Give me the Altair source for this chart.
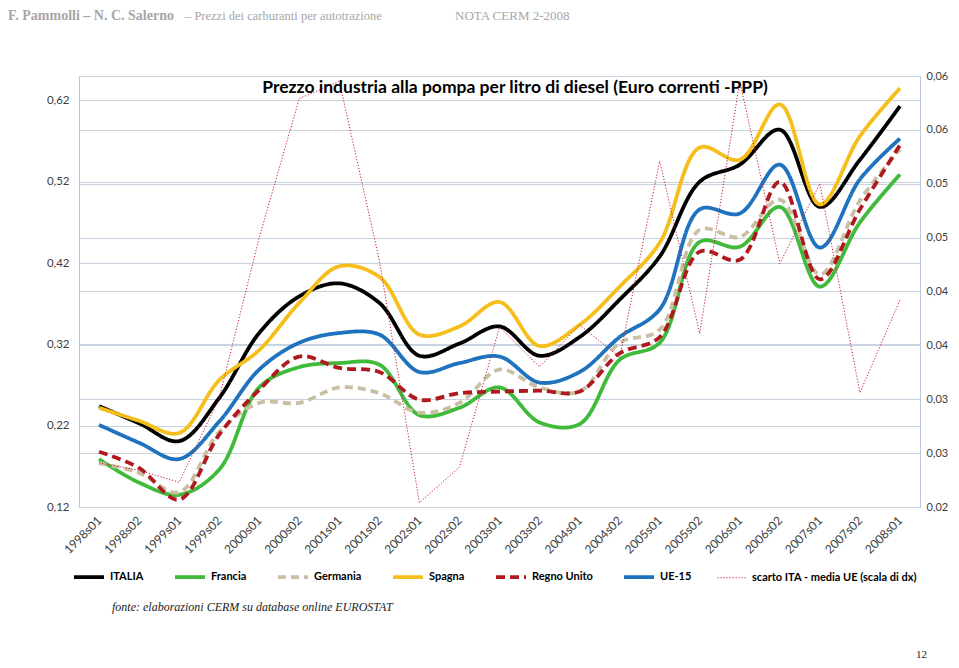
import altair as alt
import pandas as pd

cats = ["1998s01", "1998s02", "1999s01", "1999s02", "2000s01", "2000s02", "2001s01",
        "2001s02", "2002s01", "2002s02", "2003s01", "2003s02", "2004s01", "2004s02",
        "2005s01", "2005s02", "2006s01", "2006s02", "2007s01", "2007s02", "2008s01"]

italia = [0.244, 0.223, 0.201, 0.254, 0.334, 0.379, 0.395, 0.371, 0.306, 0.321, 0.342,
          0.306, 0.329, 0.375, 0.428, 0.520, 0.541, 0.584, 0.489, 0.547, 0.613]
francia = [0.179, 0.150, 0.135, 0.166, 0.267, 0.292, 0.297, 0.295, 0.233, 0.242, 0.267,
           0.224, 0.222, 0.301, 0.322, 0.446, 0.440, 0.489, 0.391, 0.470, 0.529]
germania = [0.174, 0.162, 0.138, 0.212, 0.248, 0.248, 0.267, 0.260, 0.236, 0.248, 0.289,
            0.267, 0.262, 0.322, 0.338, 0.461, 0.452, 0.498, 0.406, 0.497, 0.560]
spagna = [0.242, 0.226, 0.211, 0.276, 0.313, 0.371, 0.416, 0.403, 0.332, 0.342, 0.372,
          0.318, 0.344, 0.391, 0.445, 0.562, 0.547, 0.615, 0.492, 0.576, 0.635]
regno_unito = [0.188, 0.168, 0.129, 0.209, 0.264, 0.305, 0.291, 0.286, 0.252, 0.260, 0.262,
               0.263, 0.262, 0.309, 0.329, 0.434, 0.424, 0.520, 0.400, 0.486, 0.565]
ue15 = [0.221, 0.199, 0.179, 0.225, 0.289, 0.322, 0.334, 0.332, 0.286, 0.297, 0.305,
        0.273, 0.286, 0.329, 0.363, 0.486, 0.481, 0.541, 0.439, 0.523, 0.573]
scarto = [0.0241, 0.0234, 0.0223, 0.0301, 0.0450, 0.0579, 0.0595, 0.0429, 0.0204, 0.0237,
          0.0367, 0.0330, 0.0369, 0.0339, 0.0521, 0.0361, 0.0595, 0.0426, 0.0500, 0.0306, 0.0392]

names = ["ITALIA", "Francia", "Germania", "Spagna", "Regno Unito", "UE-15",
         "scarto ITA - media UE (scala di dx)"]
colors = ["#000000", "#40BA3A", "#C9BFA3", "#F6BE1A", "#B01A1F", "#1F72BD", "#C41E3A"]
dashes = [[1, 0], [1, 0], [8, 5], [1, 0], [9, 5], [1, 0], [1.2, 1.8]]
widths = [3.8, 3.8, 3.8, 3.8, 3.8, 3.8, 1.0]

left_ticks = [0.12, 0.22, 0.32, 0.42, 0.52, 0.62]
right_ticks = [0.02, 0.025, 0.03, 0.035, 0.04, 0.045, 0.05, 0.055, 0.06]

main_rows = []
for n, vals in zip(names[:6], [italia, francia, germania, spagna, regno_unito, ue15]):
    for c, v in zip(cats, vals):
        main_rows.append({"periodo": c, "serie": n, "valore": v})
main_df = pd.DataFrame(main_rows)
gap_df = pd.DataFrame({"periodo": cats, "serie": names[6], "valore": scarto})

W, H = 841, 431
FONT = "Lato"
SERIF = "Liberation Serif"
GRID = "#C8D3E2"

legend = alt.Legend(orient="none", legendX=-7, legendY=484, direction="horizontal", title=None,
                    symbolType="stroke", symbolSize=900, labelFont=FONT, labelFontSize=11,
                    labelFontWeight="bold", labelColor="#000000", columnPadding=23, labelOffset=4,
                    labelLimit=320)

color_enc = alt.Color("serie:N", scale=alt.Scale(domain=names, range=colors), legend=legend)
dash_enc = alt.StrokeDash("serie:N", scale=alt.Scale(domain=names, range=dashes), legend=legend)
width_enc = alt.StrokeWidth("serie:N", scale=alt.Scale(type="ordinal", domain=names, range=widths),
                            legend=legend)

x_enc = alt.X("periodo:N", sort=cats, scale=alt.Scale(domain=cats, padding=0.5),
              axis=alt.Axis(title=None, labelAngle=-45, labelAlign="right", labelBaseline="middle",
                            labelFont=FONT, labelFontSize=12, labelColor="#404040", ticks=False,
                            domain=False, labelPadding=11, grid=False))

y_left = alt.Y("valore:Q", scale=alt.Scale(domain=[0.12, 0.65], nice=False, zero=False),
               axis=alt.Axis(title=None, orient="left", values=left_ticks,
                             labelExpr="replace(format(datum.value, '.2f'), '.', ',')",
                             grid=True, gridColor=GRID, ticks=False, domain=False, labelPadding=10,
                             labelFont=FONT, labelFontSize=11.5, labelColor="#404040"))
y_right = alt.Y("valore:Q", scale=alt.Scale(domain=[0.02, 0.06], nice=False, zero=False),
                axis=alt.Axis(title=None, orient="right", values=right_ticks,
                              labelExpr="'0,0' + round(round(datum.value * 1000) / 10)",
                              grid=True, gridColor=GRID, ticks=False, domain=False, labelPadding=6,
                              labelFont=FONT, labelFontSize=11, labelColor="#404040"))

main = alt.Chart(main_df).mark_line(interpolate="catmull-rom", strokeCap="butt").encode(
    x=x_enc, y=y_left, color=color_enc, strokeDash=dash_enc, strokeWidth=width_enc)
gap = alt.Chart(gap_df).mark_line(interpolate="linear", strokeCap="butt").encode(
    x=x_enc, y=y_right, color=color_enc, strokeDash=dash_enc, strokeWidth=width_enc)


def label(text, x, y, **kw):
    return alt.Chart(pd.DataFrame({"t": [text]})).mark_text(**kw).encode(
        x=alt.value(x), y=alt.value(y), text="t:N")


title = label("Prezzo industria alla pompa per litro di diesel (Euro correnti -PPP)", 436, 12,
              font=FONT, fontSize=17.5, fontWeight="bold", align="center", baseline="middle",
              color="#000000")
head1 = label("F. Pammolli \u2013 N. C. Salerno", -71, -67, font=SERIF, fontSize=14,
              fontWeight="bold", align="left", baseline="top", color="#A6A6A6")
head2 = label("\u2013 Prezzi dei carburanti per autotrazione", 106, -66, font=SERIF, fontSize=12.5,
              align="left", baseline="top", color="#A6A6A6")
head3 = label("NOTA CERM 2-2008", 376, -66, font=SERIF, fontSize=13, align="left",
              baseline="top", color="#A6A6A6")
foot = label("fonte: elaborazioni CERM su database online EUROSTAT", 33, 531, font=SERIF,
             fontSize=12, fontStyle="italic", align="left", baseline="middle", color="#222222")
pagenum = label("12", 848, 579, font=SERIF, fontSize=11, align="right", baseline="middle",
                color="#222222")

chart = alt.layer(main, gap, title, head1, head2, head3, foot, pagenum).resolve_scale(
    y="independent"
).properties(
    width=W, height=H,
    padding={"left": 71, "top": 68, "right": 28, "bottom": 152},
    autosize=alt.AutoSizeParams(type="none"),
).configure_view(stroke="#B9C7D8", strokeWidth=1)

chart.save("out.html", embed_options={"renderer": "svg", "actions": False})
